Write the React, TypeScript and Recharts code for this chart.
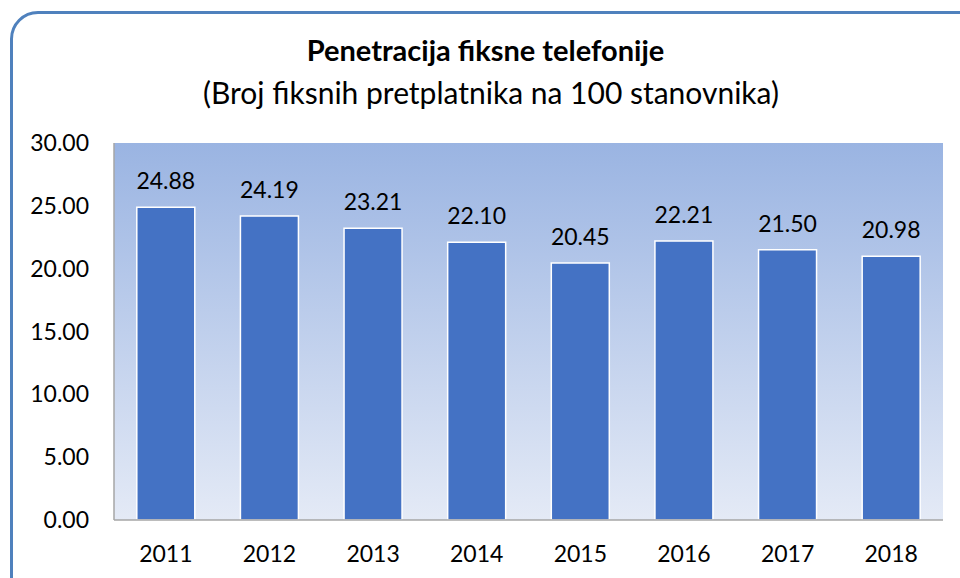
import { BarChart, Bar, XAxis, YAxis, CartesianGrid, LabelList } from 'recharts';

const years = ['2011', '2012', '2013', '2014', '2015', '2016', '2017', '2018'];
const penetration = [24.88, 24.19, 23.21, 22.1, 20.45, 22.21, 21.5, 20.98];
const yTicks = [0, 5, 10, 15, 20, 25, 30];

const data = years.map((year, i) => ({ year, value: penetration[i] }));

const FONT = 'Lato, "Open Sans", sans-serif';

export default function App() {
  return (
    <div style={{ position: 'absolute', left: 0, top: 0, width: 960, height: 578, background: '#fff', fontFamily: FONT, overflow: 'hidden' }}>
      <div
        style={{
          position: 'absolute',
          left: 10,
          top: 11,
          width: 980,
          height: 600,
          border: '3px solid #4F81BD',
          borderRadius: 28,
          boxSizing: 'border-box',
        }}
      />
      <div style={{ position: 'absolute', left: 0, width: 971, top: 32, lineHeight: '36px', textAlign: 'center', fontWeight: 700, fontSize: 29, color: '#000' }}>
        Penetracija fiksne telefonije
      </div>
      <div style={{ position: 'absolute', left: 0, width: 982, top: 74, lineHeight: '36px', textAlign: 'center', fontSize: 30, color: '#000' }}>
        (Broj fiksnih pretplatnika na 100 stanovnika)
      </div>
      <div style={{ position: 'absolute', left: 0, top: 0 }}>
        <BarChart
          width={960}
          height={578}
          data={data}
          margin={{ top: 143, right: 17, bottom: 28, left: 34 }}
          barCategoryGap="22%"
        >
          <defs>
            <linearGradient id="plotBg" x1="0" y1="0" x2="0" y2="1">
              <stop offset="0%" stopColor="#9AB4E2" />
              <stop offset="100%" stopColor="#E4EAF6" />
            </linearGradient>
          </defs>
          <CartesianGrid horizontal={false} vertical={false} fill="url(#plotBg)" />
          <XAxis
            dataKey="year"
            height={30}
            tickLine={false}
            axisLine={{ stroke: '#A6A6A6', strokeWidth: 1.5 }}
            tick={{ fill: '#000', fontSize: 23, fontFamily: FONT }}
            tickMargin={20}
          />
          <YAxis
            width={80}
            domain={[0, 30]}
            ticks={yTicks}
            tickFormatter={(v: number) => v.toFixed(2)}
            tickLine={false}
            axisLine={{ stroke: '#A6A6A6', strokeWidth: 1.5 }}
            tick={{ fill: '#000', fontSize: 23, fontFamily: FONT }}
            tickMargin={19}
          />
          <Bar dataKey="value" fill="#4472C4" stroke="#FFFFFF" strokeWidth={1.5} isAnimationActive={false}>
            <LabelList
              dataKey="value"
              position="top"
              offset={18}
              formatter={(v: number) => v.toFixed(2)}
              style={{ fill: '#000', fontSize: 23, fontFamily: FONT }}
            />
          </Bar>
        </BarChart>
      </div>
    </div>
  );
}
